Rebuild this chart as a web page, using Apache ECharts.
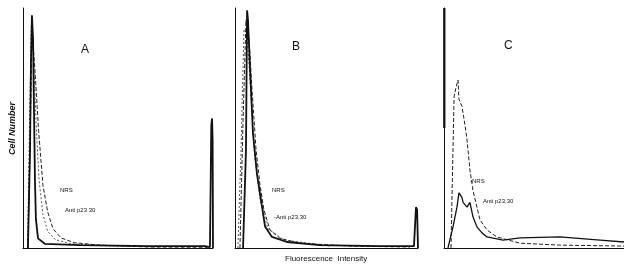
<!DOCTYPE html>
<html>
<head>
<meta charset="utf-8">
<script src="https://cdn.jsdelivr.net/npm/echarts@6/dist/echarts.min.js"></script>
<style>
  html, body { margin: 0; padding: 0; background: #fff; }
  #chart { width: 624px; height: 274px; }
</style>
</head>
<body>
<div id="chart"></div>
<script>
// channel (0-100) vs relative cell count (0-100), one set per panel
const panelNames = ['A', 'B', 'C'];

const controlA = [[2.6, 0], [3.7, 41], [4.2, 78], [4.7, 97], [5.3, 87], [5.8, 57], [6.3, 28], [6.8, 12], [7.9, 4], [11.6, 1.7], [30, 1.2], [66.8, 0.8], [95.8, 0.8], [98.4, 0.4], [99.1, 51], [99.5, 54], [99.8, 45], [100, 0]];
const nrsA = [[2.6, 0], [3.7, 41], [4.7, 91], [6.3, 74], [8.2, 49], [10.5, 26], [13, 15], [15.8, 8], [20, 4.2], [27, 2.2], [40.5, 1.2], [67, 0.4], [98, 0.3]];
const antiA = [[2.4, 0], [3.4, 50], [4.4, 93], [5.5, 80], [7, 50], [8.5, 28], [10.5, 14], [13, 7], [17, 3.5], [25, 1.8], [40, 1], [70, 0.5]];

const controlB = [[4.4, 0], [6, 41], [6.6, 99], [7.1, 95], [8.2, 75], [9.8, 48], [12, 31], [14.8, 17], [16.4, 9], [20.2, 4.6], [28.4, 2.5], [46.4, 1.2], [79, 0.8], [97.8, 0.8], [98.9, 17], [99.5, 16], [100, 0]];
const nrsB = [[2.7, 0], [4.4, 53], [6, 95], [7.7, 87], [9.3, 66], [11.5, 41], [13.7, 26], [15.8, 16], [19.1, 7.5], [24.6, 4], [35.5, 2], [62.8, 0.8], [95.6, 0.4]];
const antiB = [[1.6, 0], [3.3, 41], [4.9, 91], [6.6, 89], [8.2, 70], [10.9, 37], [13.7, 20], [18, 8], [27, 3.3], [52, 0.8]];

const nrsC = [[3.9, 0], [4.4, 20], [5, 41], [5.6, 63], [6.7, 67], [7.8, 70], [8.3, 62], [10, 59], [11.7, 51], [12.8, 45], [14.4, 32.5], [16.1, 24], [18.3, 17], [20, 11.7], [23.9, 7.5], [29.4, 4.6], [42.2, 2], [64.4, 1.2], [100, 0.8]];
const antiC = [[2.2, 0], [5, 8.8], [7.2, 17], [8.3, 23], [9.4, 23.3], [10, 21], [10.6, 19], [12.8, 17], [14.4, 19], [16.1, 13], [18.3, 8.8], [21.1, 6.3], [23.9, 4.6], [32.8, 3.3], [42.2, 4.2], [64.4, 4.6], [86.7, 3.3], [100, 2.5]];

const chart = echarts.init(document.getElementById('chart'));

const grids = [
  { left: 23, top: 8, width: 190, bottom: 26 },
  { left: 235, top: 8, width: 183, bottom: 26 },
  { left: 444, top: 8, width: 180, bottom: 26 }
];

const axisLine = { show: true, lineStyle: { color: '#111', width: 1 } };
const xAxes = grids.map((g, i) => ({
  type: 'value', gridIndex: i, min: 0, max: 100,
  axisLine, axisTick: { show: false }, axisLabel: { show: false }, splitLine: { show: false }
}));
const yAxes = grids.map((g, i) => ({
  type: 'value', gridIndex: i, min: 0, max: 100,
  axisLine, axisTick: { show: false }, axisLabel: { show: false }, splitLine: { show: false }
}));

const line = (data, i, style) => ({
  type: 'line', xAxisIndex: i, yAxisIndex: i, data,
  symbol: 'none', smooth: false, silent: true,
  lineStyle: style
});
const solid = { color: '#111', width: 1.8 };
const dashed = { color: '#222', width: 1, type: [4, 2] };
const dotted = { color: '#555', width: 1, type: [2, 2] };

const txt = (x, y, s, size, extra) => ({
  type: 'text', left: x, top: y,
  style: Object.assign({ text: s, fill: '#111', font: size + 'px "Liberation Sans", sans-serif' }, extra || {})
});

chart.setOption({
  animation: false,
  grid: grids,
  xAxis: xAxes,
  yAxis: yAxes,
  series: [
    line(antiA, 0, dotted),
    line(nrsA, 0, dashed),
    line(controlA, 0, solid),
    line(antiB, 1, dotted),
    line(nrsB, 1, dashed),
    line(controlB, 1, solid),
    line(nrsC, 2, dashed),
    line(antiC, 2, { color: '#111', width: 1.3 })
  ],
  graphic: [
    // heavier ink on the upper part of panel C's axis
    { type: 'rect', shape: { x: 443, y: 8, width: 2.5, height: 120 }, style: { fill: '#333' }, silent: true },
    txt(81, 44, panelNames[0], 12),
    txt(292, 41, panelNames[1], 12),
    txt(504, 40, panelNames[2], 12),
    {
      type: 'text', x: 8, y: 155, rotation: Math.PI / 2,
      style: { text: 'Cell Number', fill: '#111', font: 'italic bold 9px "Liberation Sans", sans-serif' }
    },
    txt(60, 187, 'NRS', 6),
    txt(65, 207, 'Anti p23 30', 6),
    txt(272, 187, 'NRS', 6),
    txt(274, 214, '-Anti p23,30', 6),
    txt(470, 178, '-NRS', 6),
    txt(483, 198, 'Anti p23,30', 6),
    txt(285, 255, 'Fluorescence  Intensity', 8, { letterSpacing: 0.4 })
  ]
});
</script>
</body>
</html>
